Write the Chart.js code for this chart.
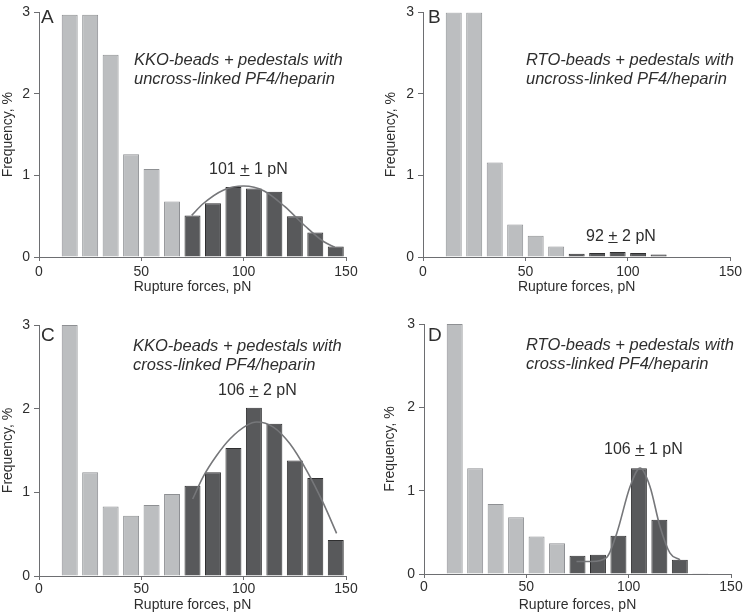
<!DOCTYPE html>
<html>
<head>
<meta charset="utf-8">
<script src="https://cdn.jsdelivr.net/npm/chart.js@4.4.0/dist/chart.umd.min.js"></script>
<style>
  body { margin: 0; background: #fff; }
  #fig { position: relative; width: 745px; height: 616px; overflow: hidden;
         font-family: "Liberation Sans", Arial, sans-serif; color: #2e2e2e; }
  #fig canvas { position: absolute; }
  .lbl { position: absolute; white-space: nowrap; }
  .pm { text-decoration: underline; }
</style>
</head>
<body>
<div id="fig">
  <canvas id="cA" width="372" height="300" style="left:0;top:0"></canvas>
  <canvas id="cB" width="373" height="300" style="left:372px;top:0"></canvas>
  <canvas id="cC" width="372" height="316" style="left:0;top:300px"></canvas>
  <canvas id="cD" width="373" height="316" style="left:372px;top:300px"></canvas>
</div>
<script>
// bin centres (pN), 10 pN bins
const bins = [15, 25, 35, 45, 55, 65, 75, 85, 95, 105, 115, 125, 135, 145];

// frequencies, %
const freqA = [2.97, 2.97, 2.48, 1.26, 1.08, 0.68, 0.51, 0.66, 0.86, 0.84, 0.80, 0.50, 0.30, 0.13];
const freqB = [3.0, 3.0, 1.16, 0.40, 0.26, 0.13, 0.04, 0.05, 0.06, 0.05, 0.03, null, null, null];
const freqC = [3.0, 1.24, 0.83, 0.72, 0.85, 0.98, 1.08, 1.24, 1.53, 2.01, 1.82, 1.38, 1.17, 0.43];
const freqD = [3.0, 1.27, 0.84, 0.68, 0.45, 0.37, 0.22, 0.23, 0.46, 1.27, 0.65, 0.17, 0.01, null];

// gaussian fit curves, sampled from the figure
const fitAx = [74.6, 80, 90, 100, 110, 120, 130, 139, 144.5];
const fitAy = [0.51, 0.65, 0.82, 0.87, 0.81, 0.62, 0.38, 0.19, 0.12];
const fitCx = [75.1, 80.3, 86.8, 93.4, 101.5, 106.4, 114.5, 122.6, 130.8, 138.9, 145.4];
const fitCy = [0.92, 1.19, 1.44, 1.64, 1.80, 1.84, 1.78, 1.58, 1.26, 0.87, 0.51];
const fitDx = [74.5, 82, 89.3, 94.2, 100.7, 105.6, 110.4, 115.3, 120.2, 125.1];
const fitDy = [0.15, 0.15, 0.20, 0.49, 1.05, 1.27, 1.05, 0.57, 0.25, 0.17];

const xTicks = [0, 50, 100, 150];
const yTicks = [0, 1, 2, 3];

const FONT = "'Liberation Sans', Arial, sans-serif";
const TEXT = "#2e2e2e";
const AXIS = "#6d6e71";
const LIGHT = "#bcbec0", LIGHT_EDGE = "#8e9093";
const DARK = "#58595b", DARK_EDGE = "#2f2f30";
const FIT = "#76777a";

function makePanel(id, freq, fitX, fitY, box) {
  const datasets = [{
    type: "bar",
    data: bins.map((b, i) => ({ x: b, y: freq[i] })),
    backgroundColor: bins.map(b => b < 70 ? LIGHT : DARK),
    borderColor: bins.map(b => b < 70 ? LIGHT_EDGE : DARK_EDGE),
    borderWidth: 1,
    barPercentage: 0.78, categoryPercentage: 1,
    order: 2,
  }];
  if (fitX) {
    datasets.push({
      type: "line",
      data: fitX.map((x, i) => ({ x, y: fitY[i] })),
      borderColor: FIT, borderWidth: 1.6, pointRadius: 0,
      cubicInterpolationMode: "monotone", fill: false, order: 1,
    });
  }
  new Chart(document.getElementById(id), {
    type: "bar",
    data: { datasets },
    options: {
      responsive: false, animation: false, devicePixelRatio: 1,
      layout: { padding: { top: box.top, right: box.right, bottom: 0, left: 0 } },
      plugins: { legend: { display: false }, tooltip: { enabled: false } },
      scales: {
        x: {
          type: "linear", min: 0, max: 150, offset: false,
          afterFit: s => { s.height = box.xh; },
          afterBuildTicks: s => { s.ticks = xTicks.map(v => ({ value: v })); },
          ticks: { color: TEXT, font: { family: FONT, size: 14 }, padding: box.tp, maxRotation: 0 },
          grid: { offset: false, drawOnChartArea: false, drawTicks: true, tickLength: 4, color: AXIS },
          border: { color: AXIS, width: 1 },
          title: { display: true, text: "Rupture forces, pN", color: TEXT,
                   font: { family: FONT, size: 14 }, padding: { top: 0, bottom: box.xtp } },
        },
        y: {
          min: 0, max: 3,
          afterFit: s => { s.width = box.yw; },
          afterBuildTicks: s => { s.ticks = yTicks.map(v => ({ value: v })); },
          ticks: { color: TEXT, font: { family: FONT, size: 14 }, padding: 4 },
          grid: { drawOnChartArea: false, drawTicks: true, tickLength: 5, color: AXIS },
          border: { color: AXIS, width: 1 },
          title: { display: true, text: "Frequency, %", color: TEXT,
                   font: { family: FONT, size: 14 }, padding: { top: box.ytp, bottom: 0 } },
        },
      },
    },
  });
}

makePanel("cA", freqA, fitAx, fitAy, { top: 9, right: 26, yw: 39, xh: 43, xtp: 4, tp: 3, ytp: 0 });
makePanel("cB", freqB, null, null, { top: 8, right: 14, yw: 51, xh: 43, xtp: 4, tp: 3, ytp: 11 });
makePanel("cC", freqC, fitCx, fitCy, { top: 25, right: 26, yw: 39, xh: 40, xtp: 2, tp: 1, ytp: 0 });
makePanel("cD", freqD, fitDx, fitDy, { top: 24, right: 14, yw: 52, xh: 42, xtp: 2, tp: 1, ytp: 10 });

// text overlays
const fig = document.getElementById("fig");
function place(html, x, base, size, italic, lh) {
  const d = document.createElement("div");
  d.className = "lbl";
  d.innerHTML = html;
  lh = lh || size;
  d.style.left = x + "px";
  d.style.top = (base - ((lh - 1.117 * size) / 2 + 0.905 * size)) + "px";
  d.style.fontSize = size + "px";
  d.style.lineHeight = lh + "px";
  if (italic) d.style.fontStyle = "italic";
  fig.appendChild(d);
}
const PM = '<span class="pm">+</span>';

place("A", 41, 23, 19);
place("B", 428, 23, 19);
place("C", 41, 341, 19);
place("D", 428, 341, 19);

place("KKO-beads + pedestals with<br>uncross-linked PF4/heparin", 134, 65, 16.5, true, 19.5);
place("RTO-beads + pedestals with<br>uncross-linked PF4/heparin", 526, 65, 16.5, true, 19.5);
place("KKO-beads + pedestals with<br>cross-linked PF4/heparin", 133, 351, 16.5, true, 19.5);
place("RTO-beads + pedestals with<br>cross-linked PF4/heparin", 526, 350, 16.5, true, 19.5);

place("101 " + PM + " 1 pN", 209, 175, 16);
place("92 " + PM + " 2 pN", 586, 242, 16);
place("106 " + PM + " 2 pN", 218, 396, 16);
place("106 " + PM + " 1 pN", 604, 455, 16);
</script>
</body>
</html>
